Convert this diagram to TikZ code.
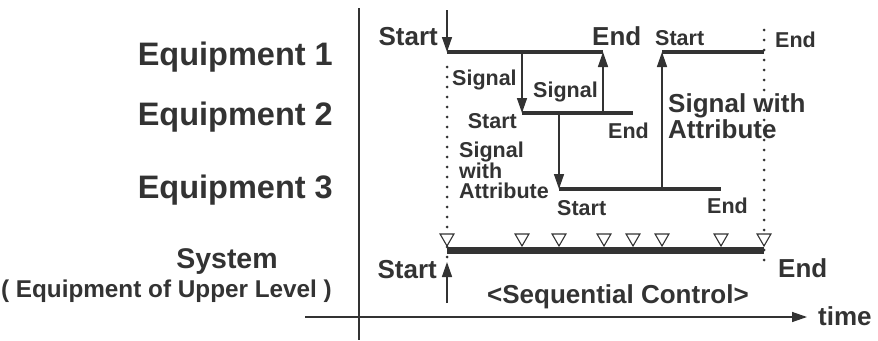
\documentclass[tikz,border=0pt]{standalone}
\usepackage{fontspec}
\setmainfont{Liberation Sans}
\usetikzlibrary{arrows.meta,positioning,shapes.geometric}

\begin{document}
\begin{tikzpicture}[
    x=1pt, y=-1pt,
    bar/.style={draw=black!80, line width=4.5pt},
    sysbar/.style={draw=black!80, line width=7pt},
    axis/.style={draw=black!80, line width=1.4pt},
    sig/.style={-{Triangle[length=15pt,width=10pt]}, draw=black!80, line width=1.5pt},
    dots/.style={draw=black!80, line width=3pt, dash pattern=on 0pt off 10pt, line cap=round},
    evt/.style={regular polygon, regular polygon sides=3, shape border rotate=180, draw=black!80, fill=white, line width=1.1pt, minimum size=16pt, inner sep=0pt},
    lbl/.style={font=\fontsize{32.5}{32}\selectfont\bfseries, text=black!80, inner sep=0pt},
    sysfont/.style={font=\fontsize{28.5}{28}\selectfont\bfseries, text=black!80, inner sep=0pt},
    upfont/.style={font=\fontsize{24.3}{24}\selectfont\bfseries, text=black!80, inner sep=0pt},
    big/.style={font=\fontsize{26}{26}\selectfont\bfseries, text=black!80, inner sep=0pt, align=left},
    small/.style={font=\fontsize{21.5}{20}\selectfont\bfseries, text=black!80, inner sep=0pt, align=left}
]
    \useasboundingbox (0,0) rectangle (878,340);

    % timing points
    \coordinate (e1s) at (447,52);
    \coordinate (e1e) at (603,52);
    \coordinate (e2s) at (522,113);
    \coordinate (e2e) at (633,113);
    \coordinate (e3s) at (559,189);
    \coordinate (e3e) at (721,189);
    \coordinate (f1s) at (662,52);
    \coordinate (f1e) at (764,52);
    \coordinate (syss) at (447,250);
    \coordinate (syse) at (764,250);

    % axes
    \coordinate (vtop) at (359,8);
    \coordinate (vbot) at (359,340);
    \coordinate (hleft) at (305,317);
    \coordinate (hright) at (807,317);
    \draw [axis] (vtop) -- (vbot);
    \draw [axis, -{Triangle[length=15pt,width=10pt]}] (hleft) -- (hright);
    \node [big, anchor=base west] (time) at (818,325) {time};

    % row labels
    \node [lbl, anchor=base east] (eq1) at (333,65) {Equipment 1};
    \node [lbl, anchor=base east] (eq2) at (333,125) {Equipment 2};
    \node [lbl, anchor=base east] (eq3) at (333,198) {Equipment 3};
    \node [sysfont, anchor=base] (sys) at (227,268) {System};
    \node [upfont, anchor=base east] (upper) at (332,297) {( Equipment of Upper Level )};

    % dotted limits
    \draw [dots] (447,67) -- (447,258);
    \draw [dots] (764,30) -- (764,262);

    % activity bars
    \draw [bar] (e1s) -- (e1e);
    \draw [bar] (e2s) -- (e2e);
    \draw [bar] (e3s) -- (e3e);
    \draw [bar] (f1s) -- (f1e);
    \draw [sysbar] (syss) -- (syse);

    % signals
    \coordinate (kick) at (447,10);
    \coordinate (sysin) at (447,303);
    \coordinate (sysup) at (447,262);
    \draw [sig] (kick) -- (e1s);
    \draw [sig] (e2s |- e1s) -- (e2s);
    \draw [sig] (e1e |- e2s) -- (e1e);
    \draw [sig] (e3s |- e2s) -- (e3s);
    \draw [sig] (f1s |- e3s) -- (f1s);
    \draw [sig] (sysin) -- (sysup);

    % events seen by the system
    \foreach \t/\px in {a/447, b/522, c/559, d/604, e/633, f/662, g/721, h/764}
        \node [evt] (ev\t) at (\px,238) {};

    % texts on the chart
    \node [big, anchor=base east] (s1) at (438,45) {Start};
    \node [big, anchor=base west] (n1) at (592,45) {End};
    \node [small, anchor=base west] (g12) at (452,85) {Signal};
    \node [small, anchor=base west] (g21) at (533,97) {Signal};
    \node [small, anchor=base east] (s2) at (517,128) {Start};
    \node [small, anchor=base west] (n2) at (608,138) {End};
    \node [small, anchor=north west] (g23) at (459,142) {Signal\\with\\Attribute};
    \node [small, anchor=base west] (s3) at (557,215) {Start};
    \node [small, anchor=base west] (n3) at (707,213) {End};
    \node [small, anchor=base west] (s4) at (655,45) {Start};
    \node [small, anchor=base west] (n4) at (775,47) {End};
    \node [big, anchor=north west] (g31) at (668,93) {Signal with\\Attribute};
    \node [big, anchor=base east] (s5) at (437,278) {Start};
    \node [big, anchor=base west] (n5) at (778,277) {End};
    \node [big, anchor=base west] (seq) at (487,303) {<Sequential Control>};
\end{tikzpicture}
\end{document}
